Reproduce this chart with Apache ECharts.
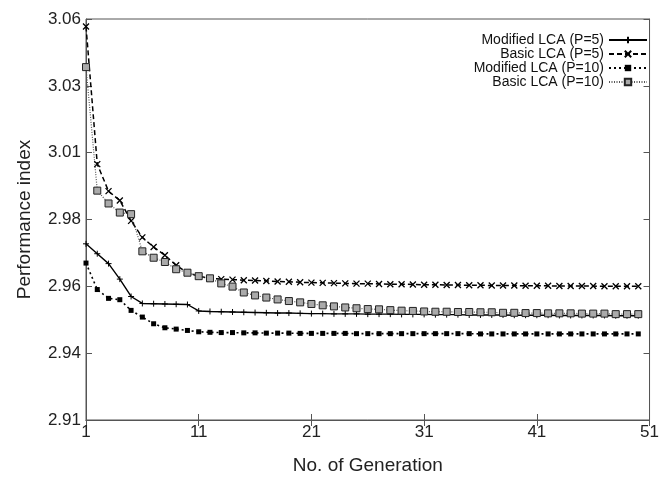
<!DOCTYPE html>
<html>
<head>
<meta charset="utf-8">
<script src="https://cdn.jsdelivr.net/npm/echarts@6/dist/echarts.min.js"></script>
<style>html,body{margin:0;padding:0;background:#fff;}#c{width:662px;height:480px;}</style>
</head>
<body>
<div id="c"></div>
<script>
const generations = ['1','2','3','4','5','6','7','8','9','10','11','12','13','14','15','16','17','18','19','20','21','22','23','24','25','26','27','28','29','30','31','32','33','34','35','36','37','38','39','40','41','42','43','44','45','46','47','48','49','50','51'];
const yTickLabels = ['2.91','2.94','2.96','2.98','3.01','3.03','3.06'];
const seriesNames = ['Modified LCA (P=5)','Basic LCA (P=5)','Modified LCA (P=10)','Basic LCA (P=10)'];

const modifiedP5 = [2.9759,2.9722,2.9685,2.9627,2.9562,2.9536,2.9535,2.9534,2.9533,2.9532,
  2.9508,2.9506,2.9505,2.9504,2.9503,2.9502,2.9501,2.9500,2.9500,2.9499,
  2.9498,2.9498,2.9497,2.9497,2.9497,2.9496,2.9496,2.9496,2.9495,2.9495,
  2.9495,2.9494,2.9494,2.9494,2.9493,2.9493,2.9493,2.9493,2.9492,2.9492,
  2.9492,2.9492,2.9491,2.9491,2.9491,2.9491,2.9491,2.9490,2.9490,2.9490];
const basicP5 = [3.0572,3.0057,2.9956,2.9921,2.9845,2.9783,2.9747,2.9716,2.9679,2.9651,
  2.9638,2.9629,2.9627,2.9625,2.9623,2.9622,2.9620,2.9618,2.9617,2.9615,
  2.9614,2.9613,2.9612,2.9611,2.9610,2.9610,2.9609,2.9608,2.9608,2.9607,
  2.9606,2.9606,2.9605,2.9605,2.9604,2.9604,2.9603,2.9603,2.9603,2.9602,
  2.9602,2.9602,2.9601,2.9601,2.9601,2.9601,2.9600,2.9600,2.9600,2.9600];
const modifiedP10 = [2.9687,2.9588,2.9555,2.9550,2.9510,2.9485,2.9460,2.9445,2.9440,2.9435,
  2.9430,2.9428,2.9427,2.9427,2.9426,2.9426,2.9425,2.9425,2.9425,2.9424,
  2.9424,2.9424,2.9424,2.9424,2.9423,2.9423,2.9423,2.9423,2.9423,2.9423,
  2.9423,2.9423,2.9423,2.9423,2.9423,2.9422,2.9422,2.9422,2.9422,2.9422,
  2.9422,2.9422,2.9422,2.9422,2.9422,2.9422,2.9422,2.9422,2.9422,2.9422];
const basicP10 = [3.0420,2.9958,2.9910,2.9876,2.9870,2.9731,2.9707,2.9691,2.9664,2.9651,
  2.9638,2.9630,2.9611,2.9599,2.9577,2.9566,2.9558,2.9551,2.9545,2.9540,
  2.9534,2.9529,2.9525,2.9521,2.9518,2.9515,2.9514,2.9511,2.9509,2.9508,
  2.9506,2.9505,2.9505,2.9504,2.9504,2.9503,2.9503,2.9501,2.9501,2.9500,
  2.9500,2.9499,2.9499,2.9499,2.9498,2.9498,2.9498,2.9496,2.9496,2.9496];

const FONT = 'Liberation Sans';
const plusPath = 'path://M5,0L5,10M0,5L10,5';
const crossPath = 'path://M0,0L10,10M10,0L0,10';

const chart = echarts.init(document.getElementById('c'), null, {renderer: 'canvas'});
const tickStyle = {show: true, inside: true, length: 6, lineStyle: {color: '#555', width: 1}};
const option = {
  animation: false,
  backgroundColor: '#fff',
  textStyle: {fontFamily: FONT},
  grid: {left: 86, right: 4, top: 19, bottom: 55, show: true, borderColor: '#555', borderWidth: 1, backgroundColor: 'transparent'},
  legend: {
    orient: 'vertical', right: 14, top: 33, align: 'right', padding: 0,
    itemWidth: 38, itemHeight: 8, itemGap: 0,
    textStyle: {fontFamily: FONT, fontSize: 14, color: '#111', lineHeight: 14},
    data: seriesNames
  },
  xAxis: [
    {type: 'category', data: generations, boundaryGap: false, position: 'bottom',
     axisLine: {show: true, lineStyle: {color: '#555'}},
     axisTick: Object.assign({interval: 9, alignWithLabel: true}, tickStyle),
     axisLabel: {interval: 9, fontFamily: FONT, fontSize: 17, color: '#222', margin: 4},
     splitLine: {show: false},
     name: 'No. of Generation', nameLocation: 'middle', nameGap: 36,
     nameTextStyle: {fontFamily: FONT, fontSize: 19, color: '#222'}},
    {type: 'category', data: generations, boundaryGap: false, position: 'top',
     axisLine: {show: true, lineStyle: {color: '#555'}},
     axisTick: Object.assign({interval: 9}, tickStyle),
     axisLabel: {show: false}, splitLine: {show: false}}
  ],
  yAxis: [
    {type: 'value', min: 2.91, max: 3.06, show: false, scale: true},
    {type: 'value', min: 0, max: 6, interval: 1, position: 'left',
     axisLine: {show: true, lineStyle: {color: '#555'}},
     axisTick: tickStyle,
     axisLabel: {fontFamily: FONT, fontSize: 17, color: '#222', margin: 5,
       formatter: function (v) { return yTickLabels[Math.round(v)]; }},
     splitLine: {show: false},
     name: 'Performance index', nameLocation: 'middle', nameGap: 52, nameRotate: 90,
     nameTextStyle: {fontFamily: FONT, fontSize: 19, color: '#222'}},
    {type: 'value', min: 0, max: 6, interval: 1, position: 'right',
     axisLine: {show: true, lineStyle: {color: '#555'}},
     axisTick: tickStyle, axisLabel: {show: false}, splitLine: {show: false}}
  ],
  series: [
    {name: seriesNames[0], type: 'line', data: modifiedP5, xAxisIndex: 0, yAxisIndex: 0,
     symbol: plusPath, symbolSize: 6, showAllSymbol: true,
     lineStyle: {color: '#000', width: 1.4, type: 'solid'},
     itemStyle: {color: '#000', borderColor: '#000', borderWidth: 1}},
    {name: seriesNames[1], type: 'line', data: basicP5, xAxisIndex: 0, yAxisIndex: 0,
     symbol: crossPath, symbolSize: 6, showAllSymbol: true,
     lineStyle: {color: '#000', width: 1.5, type: [5, 3]},
     itemStyle: {color: '#000', borderColor: '#000', borderWidth: 1.3}},
    {name: seriesNames[2], type: 'line', data: modifiedP10, xAxisIndex: 0, yAxisIndex: 0,
     symbol: 'rect', symbolSize: 5, showAllSymbol: true,
     lineStyle: {color: '#000', width: 1.6, type: [2, 3]},
     itemStyle: {color: '#000', borderColor: '#000', borderWidth: 0}},
    {name: seriesNames[3], type: 'line', data: basicP10, xAxisIndex: 0, yAxisIndex: 0,
     symbol: 'rect', symbolSize: 7, showAllSymbol: true,
     lineStyle: {color: '#555', width: 1.2, type: [1, 1.5]},
     itemStyle: {color: '#aaa', borderColor: '#222', borderWidth: 1}}
  ]
};
chart.setOption(option);
</script>
</body>
</html>
